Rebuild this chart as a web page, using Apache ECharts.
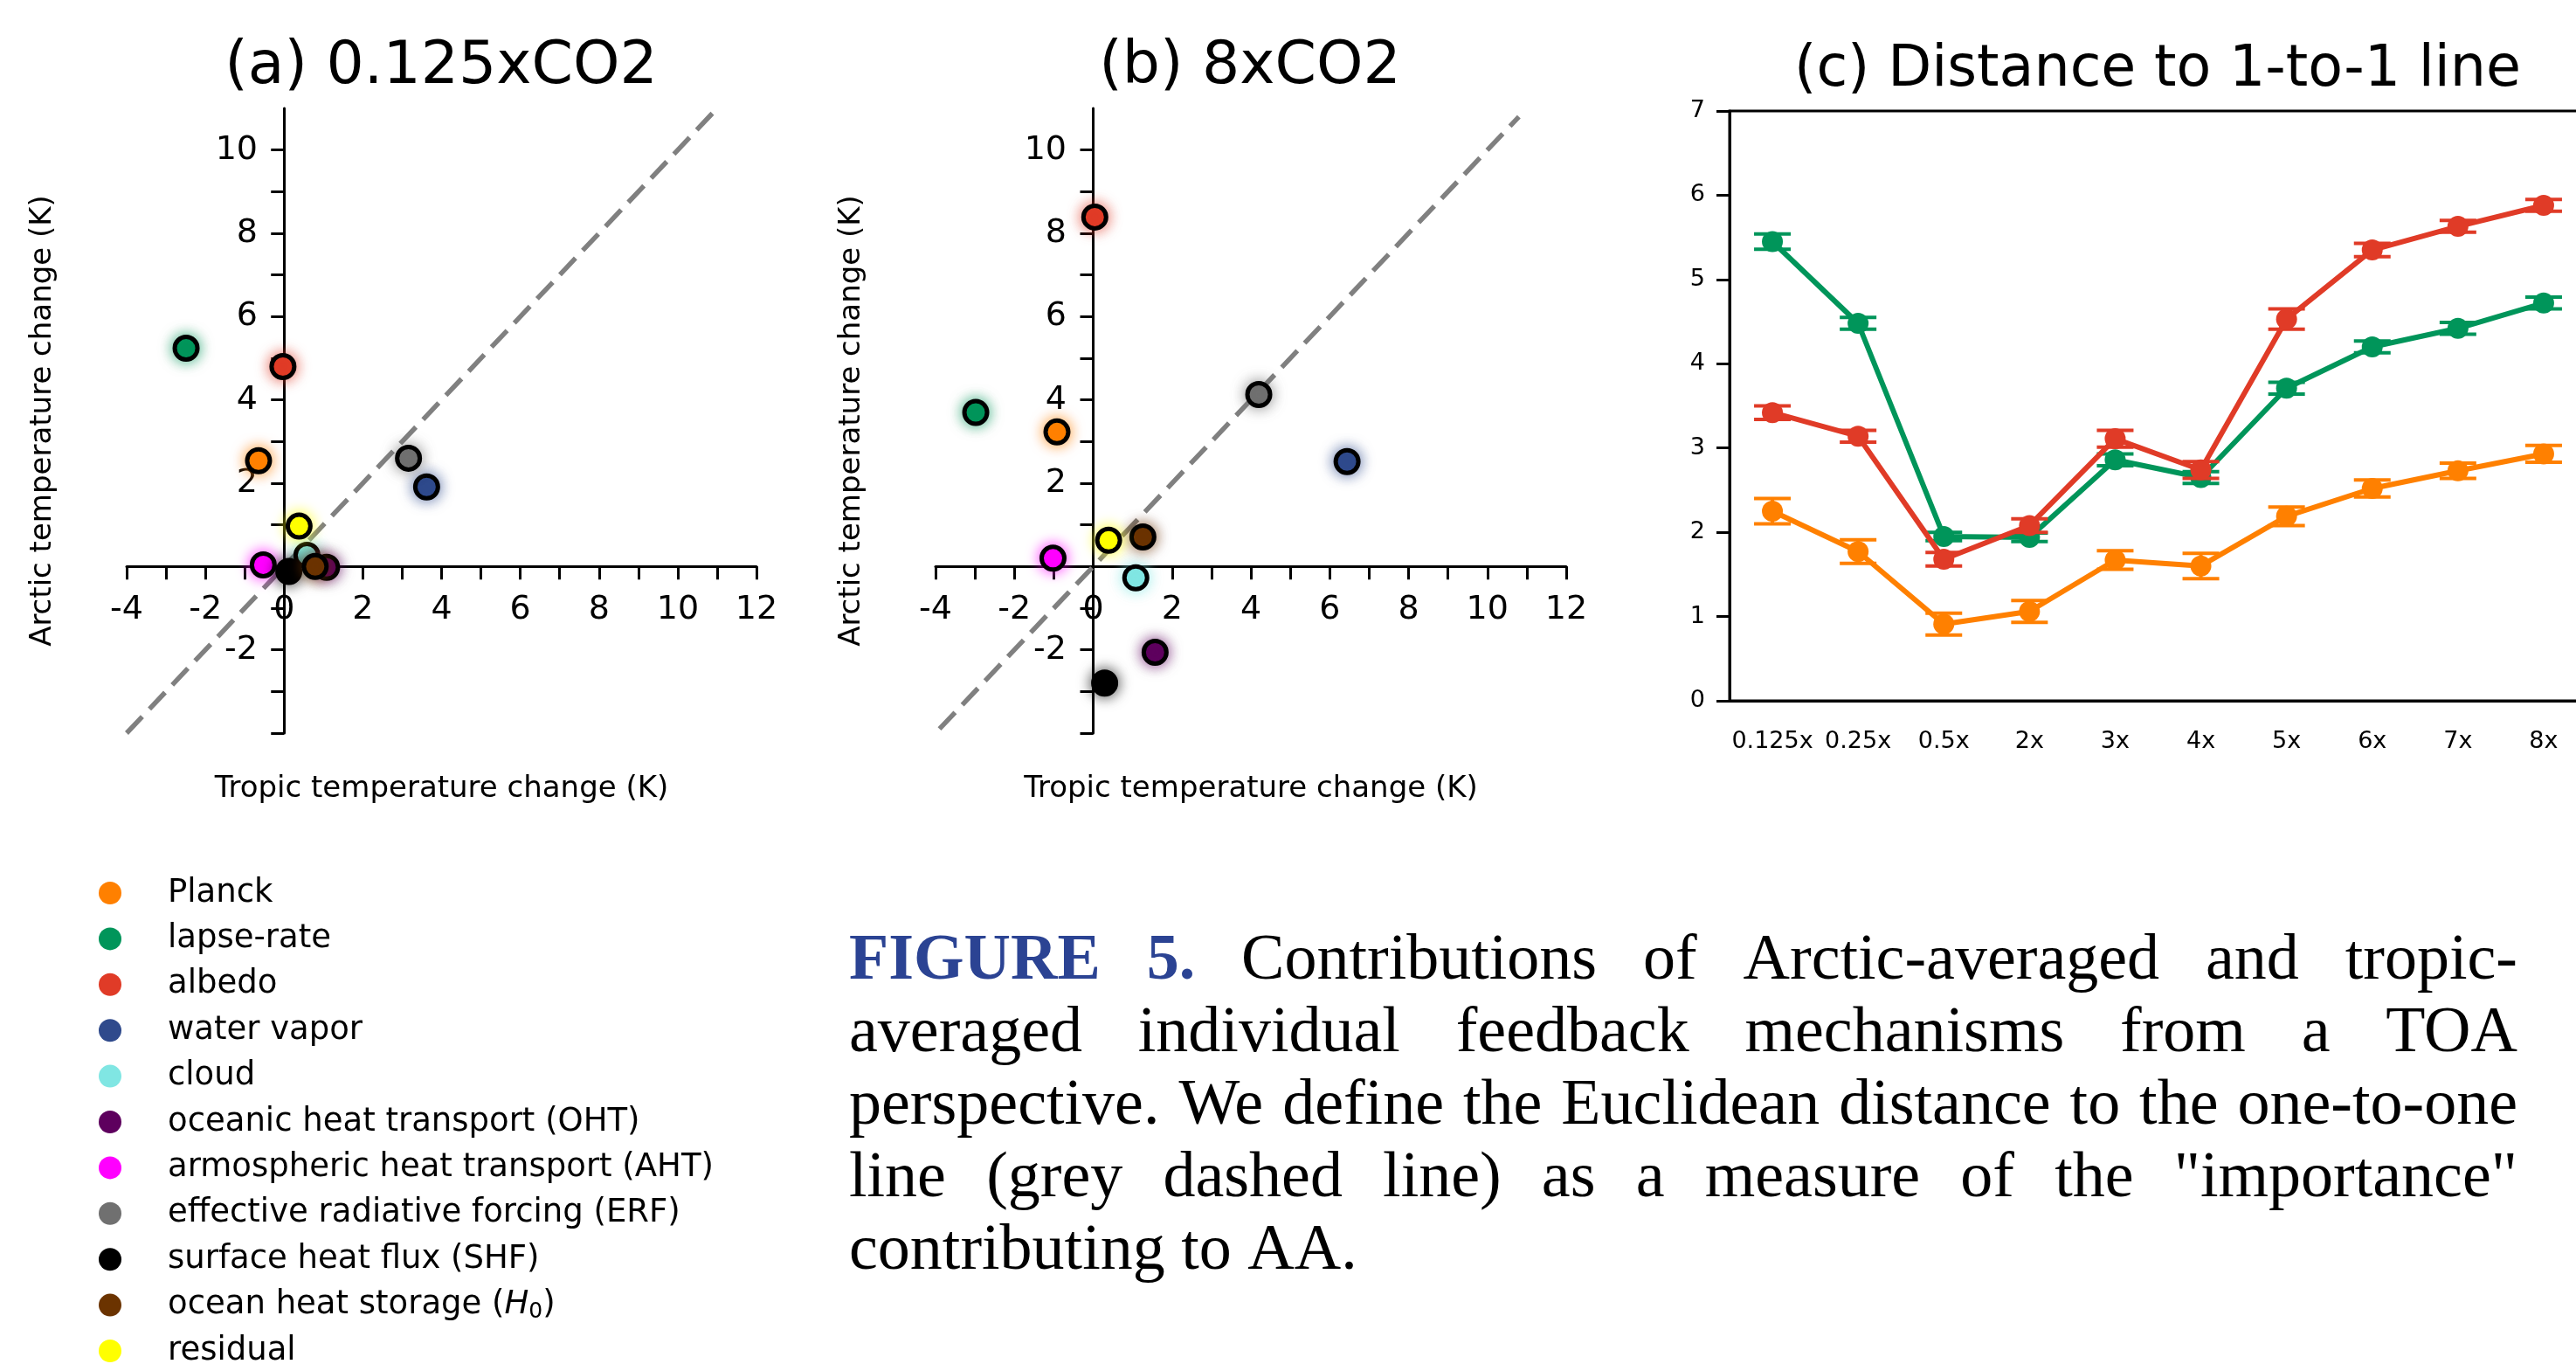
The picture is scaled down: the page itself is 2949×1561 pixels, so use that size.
<!DOCTYPE html>
<html>
<head>
<meta charset="utf-8">
<script src="https://cdn.jsdelivr.net/npm/echarts@6.0.0/dist/echarts.min.js"></script>
<style>
  html, body { margin: 0; padding: 0; background: #fff; }
  #chart { width: 2949px; height: 1561px; }
</style>
</head>
<body>
<div id="chart"></div>
<script>
// feedback mechanisms (legend order) and their colours
const mechanisms = ['Planck', 'lapse-rate', 'albedo', 'water vapor', 'cloud',
  'oceanic heat transport (OHT)', 'armospheric heat transport (AHT)',
  'effective radiative forcing (ERF)', 'surface heat flux (SHF)',
  'ocean heat storage (H0)', 'residual'];
const colors = ['#ff8000', '#00955a', '#e03b27', '#2f4a8c', '#80e6e3', '#5e005e',
  '#ff00ff', '#707070', '#000000', '#6b3300', '#ffff00'];

// (a) 0.125xCO2 : tropic / arctic temperature change (K)
const tropicA = [-0.65, -2.49, -0.03, 3.62, 0.58, 1.08, -0.53, 3.16, 0.12, 0.79, 0.38];
const arcticA = [2.54, 5.24, 4.80, 1.91, 0.27, -0.02, 0.04, 2.60, -0.12, 0.00, 0.97];
// (b) 8xCO2
const tropicB = [-0.92, -2.98, 0.04, 6.44, 1.08, 1.57, -1.02, 4.20, 0.29, 1.26, 0.39];
const arcticB = [3.23, 3.70, 8.39, 2.52, -0.27, -2.06, 0.20, 4.13, -2.80, 0.71, 0.63];
// 1-to-1 line ends
const oneToOneA = [[-4, -4], [11, 11]];
const oneToOneB = [[-3.9, -3.9], [10.8, 10.8]];

// (c) distance to 1-to-1 line
const ratios = ['0.125x', '0.25x', '0.5x', '2x', '3x', '4x', '5x', '6x', '7x', '8x'];
const distPlanck = [2.25, 1.77, 0.91, 1.06, 1.67, 1.60, 2.19, 2.52, 2.73, 2.93];
const errPlanck  = [0.15, 0.14, 0.13, 0.13, 0.11, 0.15, 0.11, 0.10, 0.09, 0.10];
const distLapse  = [5.45, 4.48, 1.95, 1.94, 2.86, 2.65, 3.71, 4.20, 4.42, 4.72];
const errLapse   = [0.09, 0.07, 0.05, 0.05, 0.07, 0.07, 0.07, 0.07, 0.07, 0.07];
const distAlbedo = [3.42, 3.14, 1.68, 2.08, 3.11, 2.74, 4.53, 5.35, 5.63, 5.88];
const errAlbedo  = [0.08, 0.07, 0.08, 0.08, 0.10, 0.10, 0.12, 0.08, 0.07, 0.07];

// tick values
const xTicks = [-4, -3, -2, -1, 0, 1, 2, 3, 4, 5, 6, 7, 8, 9, 10, 11, 12];
const xLabels = [-4, -2, 0, 2, 4, 6, 8, 10, 12];
const yTicks = [-4, -3, -2, -1, 0, 1, 2, 3, 4, 5, 6, 7, 8, 9, 10];
const yLabels = [-2, 2, 4, 6, 8, 10];

const captionLines = [
  'FIGURE 5. Contributions of Arctic-averaged and tropic-',
  'averaged individual feedback mechanisms from a TOA',
  'perspective. We define the Euclidean distance to the one-to-one',
  'line (grey dashed line) as a measure of the "importance"',
  'contributing to AA.'
];

const chart = echarts.init(document.getElementById('chart'));
const axisStyle = { color: '#000', width: 3 };

// labels sit at the grid edge, so margins reach back to the zero lines
function scatterAxes(idx) {
  return {
    x: {
      type: 'value', gridIndex: idx, min: -4, max: 12,
      axisLine: { onZero: true, lineStyle: axisStyle },
      axisTick: { length: 15, lineStyle: axisStyle, customValues: xTicks },
      axisLabel: { fontSize: 38, color: '#000', margin: -160, customValues: xLabels },
      splitLine: { show: false },
      name: 'Tropic temperature change (K)', nameLocation: 'middle', nameGap: 47,
      nameTextStyle: { fontSize: 34, color: '#000' }
    },
    y: {
      type: 'value', gridIndex: idx, min: -4, max: 11,
      axisLine: { onZero: true, lineStyle: axisStyle },
      axisTick: { length: 15, lineStyle: axisStyle, customValues: yTicks },
      axisLabel: { fontSize: 38, color: '#000', margin: -150, customValues: yLabels },
      splitLine: { show: false },
      name: 'Arctic temperature change (K)', nameLocation: 'middle', nameGap: 79,
      nameTextStyle: { fontSize: 34, color: '#000' }
    }
  };
}
const axA = scatterAxes(0);
const axB = scatterAxes(1);

const series = [];
[[oneToOneA, 0], [oneToOneB, 1]].forEach(([pts, i]) => {
  series.push({
    type: 'line', xAxisIndex: i, yAxisIndex: i, data: pts, symbol: 'none', silent: true, z: 1,
    lineStyle: { color: '#808080', width: 5.5, type: [26, 12] }
  });
});
[[tropicA, arcticA, 0], [tropicB, arcticB, 1]].forEach(([xs, ys, i]) => {
  mechanisms.forEach((m, k) => {
    series.push({
      type: 'scatter', name: m, xAxisIndex: i, yAxisIndex: i, z: 3,
      data: [[xs[k], ys[k]]], symbolSize: 26,
      itemStyle: {
        color: colors[k], borderColor: '#000', borderWidth: 5, opacity: 1,
        shadowBlur: 16, shadowColor: colors[k] === '#000000' ? 'rgba(0,0,0,0.7)' : colors[k] + 'bb'
      }
    });
  });
});

function errRender(params, api) {
  const x = api.value(0);
  const lo = api.coord([x, api.value(1)]);
  const hi = api.coord([x, api.value(2)]);
  const w = 21;
  const style = { stroke: api.visual('color'), lineWidth: 4 };
  return {
    type: 'group', children: [
      { type: 'line', shape: { x1: lo[0], y1: lo[1], x2: hi[0], y2: hi[1] }, style },
      { type: 'line', shape: { x1: lo[0] - w, y1: lo[1], x2: lo[0] + w, y2: lo[1] }, style },
      { type: 'line', shape: { x1: hi[0] - w, y1: hi[1], x2: hi[0] + w, y2: hi[1] }, style }
    ]
  };
}
[[distPlanck, errPlanck, 0], [distLapse, errLapse, 1], [distAlbedo, errAlbedo, 2]].forEach(([d, e, k]) => {
  series.push({
    type: 'line', name: mechanisms[k], xAxisIndex: 2, yAxisIndex: 2, data: d, z: 4 + k,
    symbol: 'circle', symbolSize: 24, color: colors[k],
    lineStyle: { width: 6, color: colors[k] }, itemStyle: { color: colors[k] }
  });
  series.push({
    type: 'custom', xAxisIndex: 2, yAxisIndex: 2, z: 4 + k, renderItem: errRender,
    itemStyle: { color: colors[k] }, encode: { x: 0, y: [1, 2] },
    data: d.map((v, i) => [i, v - e[i], v + e[i]])
  });
});

// justified caption built from words
const measure = document.createElement('canvas').getContext('2d');
const capFont = '"Liberation Serif", "Times New Roman", serif';
const capSize = 74, capLeft = 972, capRight = 2882;
const capY = [1101, 1184, 1267, 1350, 1433];
const boldWords = ['FIGURE', '5.'];
const graphics = [];
captionLines.forEach((line, li) => {
  const words = line.split(' ');
  const widths = words.map(w => {
    measure.font = (boldWords.includes(w) && li === 0 ? 'bold ' : '') + capSize + 'px ' + capFont;
    return measure.measureText(w).width;
  });
  const total = widths.reduce((a, b) => a + b, 0);
  const last = li === captionLines.length - 1;
  measure.font = capSize + 'px ' + capFont;
  const gap = last ? measure.measureText(' ').width : (capRight - capLeft - total) / (words.length - 1);
  let x = capLeft;
  words.forEach((w, i) => {
    const bold = boldWords.includes(w) && li === 0;
    graphics.push({
      type: 'text', x: x, y: capY[li],
      style: {
        text: w, fontSize: capSize, fontFamily: capFont, fontWeight: bold ? 'bold' : 'normal',
        fill: bold ? '#2b4393' : '#000', verticalAlign: 'middle', align: 'left'
      }
    });
    x += widths[i] + gap;
  });
});

const titleStyle = { fontWeight: 'normal', color: '#000', fontFamily: 'DejaVu Sans' };
chart.setOption({
  animation: false,
  textStyle: { fontFamily: 'DejaVu Sans' },
  title: [
    { text: '(a) 0.125xCO2', left: 505, top: 43, textAlign: 'center', padding: 0,
      textStyle: Object.assign({ fontSize: 68 }, titleStyle) },
    { text: '(b) 8xCO2', left: 1431, top: 43, textAlign: 'center', padding: 0,
      textStyle: Object.assign({ fontSize: 68 }, titleStyle) },
    { text: '(c) Distance to 1-to-1 line', left: 2470, top: 49, textAlign: 'center', padding: 0,
      textStyle: Object.assign({ fontSize: 65 }, titleStyle) }
  ],
  legend: {
    orient: 'vertical', left: 113, top: 1000, height: 640, itemWidth: 26, itemHeight: 26, itemGap: 8.4,
    padding: 0, icon: 'circle', selectedMode: false, data: mechanisms,
    itemStyle: { borderWidth: 0, shadowBlur: 0 },
    formatter: n => n === 'ocean heat storage (H0)' ? 'ocean heat storage ({i|H}{sub|0})' : n,
    textStyle: {
      fontSize: 37, color: '#000', lineHeight: 44, padding: [0, 0, 0, 48], fontFamily: 'DejaVu Sans',
      rich: {
        i: { fontSize: 37, fontStyle: 'italic', fontFamily: 'DejaVu Sans', color: '#000' },
        sub: { fontSize: 25, fontFamily: 'DejaVu Sans', color: '#000', padding: [16, 0, 0, 0] }
      }
    }
  },
  grid: [
    { left: 145, top: 124, width: 721, height: 715, outerBoundsMode: 'none' },
    { left: 1071, top: 124, width: 722, height: 715, outerBoundsMode: 'none' },
    { left: 1980, top: 127, width: 981, height: 675, show: true, borderColor: '#000', borderWidth: 3,
      outerBoundsMode: 'none' }
  ],
  xAxis: [axA.x, axB.x, {
    type: 'category', gridIndex: 2, data: ratios, boundaryGap: true,
    axisLine: { lineStyle: axisStyle },
    axisTick: { alignWithLabel: true, length: 15, lineStyle: axisStyle },
    axisLabel: { fontSize: 27, color: '#000', margin: 33, interval: 0 },
    splitLine: { show: false }
  }],
  yAxis: [axA.y, axB.y, {
    type: 'value', gridIndex: 2, min: 0, max: 7, interval: 1,
    axisLine: { show: true, lineStyle: axisStyle },
    axisTick: { show: true, length: 15, lineStyle: axisStyle },
    axisLabel: { fontSize: 27, color: '#000', margin: 28 },
    splitLine: { show: false }
  }],
  series: series,
  graphic: graphics
});
</script>
</body>
</html>
